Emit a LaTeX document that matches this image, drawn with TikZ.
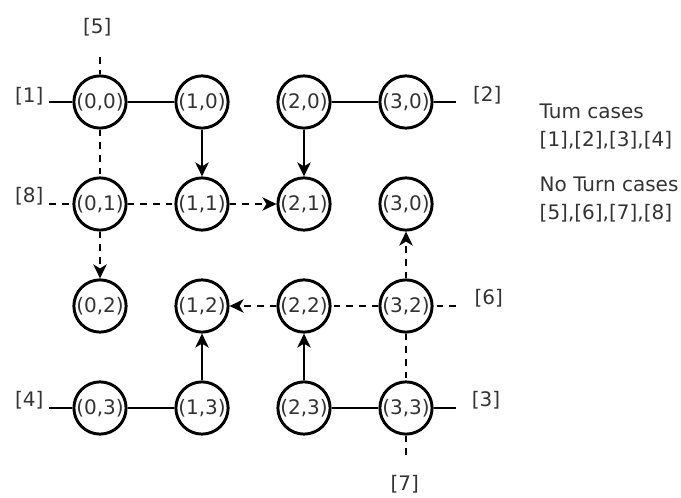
\documentclass[tikz,border=0pt]{standalone}
\usepackage{fontspec}
\setmainfont{DejaVu Sans}
\usepackage{xcolor}
\usepackage{tikz}
\usetikzlibrary{
    shapes,
    positioning,
    arrows.meta
}
\tikzset{cell/.style={
    draw,
    circle,
    line width=2.2pt,
    minimum size=38.25pt,
    inner sep=0.5pt,
    text=black!80,
    font=\fontsize{15}{18}\selectfont,
}}
\tikzset{tag/.style={
    draw=none,
    text=black!80,
    font=\fontsize{15}{18}\selectfont,
}}
\tikzset{note/.style={
    draw=none,
    anchor=west,
    align=left,
    text=black!80,
    font=\fontsize{15}{21}\selectfont,
}}
\tikzset{turn/.style={
    line width=2pt,
}}
\tikzset{noturn/.style={
    line width=2pt,
    dash pattern=on 5pt off 4.5pt,
}}
\tikzset{arrow/.style={
    -{Stealth[length=10.5pt,width=10pt,inset=3pt]},
}}

\begin{document}
\begin{tikzpicture}[
                x=0.75pt, y=-0.75pt,
                node distance=76.5pt,
                on grid
        ]
            \useasboundingbox (0,0) rectangle (681,498);

            % grid of cells
            \node[cell] (c00) at (100,102) {(0,0)};
            \node[cell, right=of c00] (c10) {(1,0)};
            \node[cell, right=of c10] (c20) {(2,0)};
            \node[cell, right=of c20] (c30) {(3,0)};

            \node[cell, below=of c00] (c01) {(0,1)};
            \node[cell, right=of c01] (c11) {(1,1)};
            \node[cell, right=of c11] (c21) {(2,1)};
            \node[cell, right=of c21] (c31) {(3,0)};

            \node[cell, below=of c01] (c02) {(0,2)};
            \node[cell, right=of c02] (c12) {(1,2)};
            \node[cell, right=of c12] (c22) {(2,2)};
            \node[cell, right=of c22] (c32) {(3,2)};

            \node[cell, below=of c02] (c03) {(0,3)};
            \node[cell, right=of c03] (c13) {(1,3)};
            \node[cell, right=of c13] (c23) {(2,3)};
            \node[cell, right=of c23] (c33) {(3,3)};

            % open ends
            \coordinate[left=38pt of c00] (s1);
            \coordinate[right=37.5pt of c30] (s2);
            \coordinate[right=37.5pt of c33] (s3);
            \coordinate[left=38pt of c03] (s4);
            \coordinate[above=33.75pt of c00] (s5);
            \coordinate[right=37.5pt of c32] (s6);
            \coordinate[below=39pt of c33] (s7);
            \coordinate[left=38pt of c01] (s8);

            \node[tag, left=53pt of c00, yshift=4pt] (t1) {[1]};
            \node[tag, right=61pt of c30, yshift=5pt] (t2) {[2]};
            \node[tag, right=60pt of c33, yshift=6pt] (t3) {[3]};
            \node[tag, left=53pt of c03, yshift=6pt] (t4) {[4]};
            \node[tag, above=56pt of c00, xshift=-2pt] (t5) {[5]};
            \node[tag, right=62pt of c32, yshift=6pt] (t6) {[6]};
            \node[tag, below=57pt of c33, xshift=-1pt] (t7) {[7]};
            \node[tag, left=53pt of c01, yshift=6pt] (t8) {[8]};

            % legend
            \node[note] (turn-cases) at (535,127) {Tum cases\\{}[1],[2],[3],[4]};
            \node[note] (noturn-cases) at (535,200) {No Turn cases\\{}[5],[6],[7],[8]};

            % turn paths
            \draw[turn] (s1) -- (c00) -- (c10);
            \draw[turn] (c20) -- (c30) -- (s2);
            \draw[turn, arrow] (c10) -- (c11);
            \draw[turn, arrow] (c20) -- (c21);
            \draw[turn] (s4) -- (c03) -- (c13);
            \draw[turn, arrow] (c13) -- (c12);
            \draw[turn, arrow] (c23) -- (c22);
            \draw[turn] (c23) -- (c33) -- (s3);

            % no turn paths
            \draw[noturn] (s5) -- (c00) -- (c01);
            \draw[noturn] (s8) -- (c01) -- (c11);
            \draw[noturn, arrow] (c11) -- (c21);
            \draw[noturn, arrow] (c01) -- (c02);
            \draw[noturn] (s6) -- (c32) -- (c22);
            \draw[noturn, arrow] (c22) -- (c12);
            \draw[noturn, arrow] (c32) -- (c31);
            \draw[noturn] (c32) -- (c33) -- (s7);

        \end{tikzpicture}
\end{document}
